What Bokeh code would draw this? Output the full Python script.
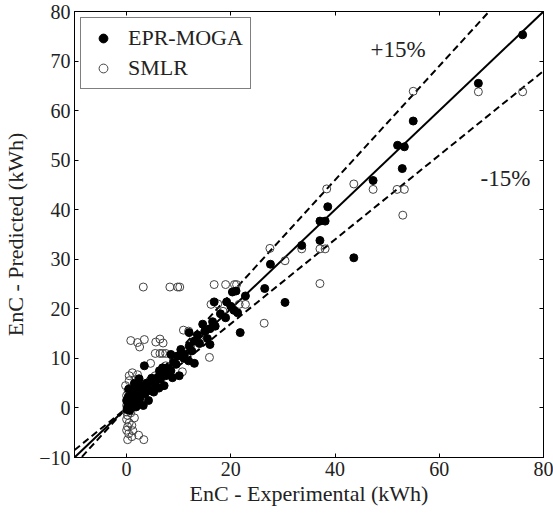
from bokeh.plotting import figure
from bokeh.models import Range1d, LinearAxis, FixedTicker, Legend, LegendItem
from bokeh.core.properties import value
from bokeh.embed import file_html
from bokeh.resources import INLINE

# EPR-MOGA (filled)
epr_exp = [76.0, 67.5, 55.0, 52.0, 53.3, 52.9, 47.3, 43.6, 38.6, 37.1, 38.1, 33.6, 37.1,
           27.6, 26.5, 30.4, 21.0, 16.8, 19.2, 20.3, 22.8, 20.6, 21.3, 21.8, 16.5, 14.6,
           12.0, 13.6, 15.2, 10.4, 11.1, 13.0, 11.9, 8.5, 9.8, 6.9, 6.3, 10.1, 8.8, 7.2,
           3.4, 2.4, 1.8, 0.2, 0.5, 0.8, 1.0, 1.5, 0.3, 2.0, 2.5, 3.0, 3.5, 4.0, 4.5, 5.0,
           5.5, 6.0, 1.2, 2.8, 0.1, 0.6, 1.8, 2.2, 3.8, 4.8, 6.5, 7.0, 7.5, 8.0, 8.5, 9.0,
           9.5, 10.0, 11.0, 12.0, 12.5, 13.0, 14.0, 15.0, 16.0, 17.0, 18.0, 19.0, 20.0,
           4.2, 3.2, 0.0, 0.4, 1.5, 5.2, 6.2, 15.5, 16.0]
epr_pred = [75.3, 65.5, 57.9, 53.0, 52.7, 48.3, 45.9, 30.3, 40.6, 37.7, 37.7, 32.8, 33.8,
            29.0, 24.1, 21.3, 23.6, 21.4, 21.4, 23.4, 22.6, 19.7, 19.2, 15.2, 17.4, 16.9,
            15.2, 14.7, 15.7, 11.8, 10.8, 9.0, 9.5, 10.8, 10.5, 8.1, 7.5, 6.5, 6.1, 4.5,
            8.5, 5.9, 4.1, 0.3, 1.0, 0.5, 1.8, 1.2, 2.2, 2.5, 1.8, 3.5, 2.8, 4.2, 3.5, 5.5,
            4.8, 6.2, 3.0, 4.5, -0.3, -0.5, 0.2, 1.0, 5.0, 6.0, 5.8, 7.2, 6.5, 8.0, 7.5, 9.2,
            8.8, 10.5, 10.0, 12.5, 11.5, 13.5, 13.0, 15.5, 16.0, 16.5, 19.0, 18.2, 20.5,
            1.5, 0.5, 1.5, 3.8, 5.0, 3.2, 4.0, 14.0, 12.8]

# SMLR (open)
smlr_exp = [76.0, 67.5, 55.0, 43.6, 47.3, 51.9, 53.3, 53.0, 38.4, 27.5, 33.6, 37.1, 38.1,
            30.4, 37.1, 26.4, 16.8, 19.0, 20.7, 21.1, 16.2, 21.6, 22.8, 3.2, 8.3, 9.8, 10.2,
            15.9, 10.9, 11.9, 0.8, 2.1, 2.5, 3.4, 5.6, 6.4, 7.0, 5.5, 6.4, 6.9, 7.5, 4.6,
            10.7, 1.1, 0.5, 2.1, -0.2, 0.0, 0.2, 0.0, 0.3, 0.5, 1.0, 1.5, 2.5, 3.5, 4.5,
            5.5, 7.5, 9.0, 12.5, 14.0, 18.5, 17.5, 0.0, 0.2, 0.0, 0.5, 0.2, 1.0, 0.0, 1.2,
            0.4, 2.3, 0.2, 3.3, 1.5, 0.8, 1.0]
smlr_pred = [63.8, 63.8, 63.9, 45.2, 44.1, 44.1, 44.1, 38.9, 44.2, 32.2, 32.1, 32.1, 32.1,
             29.7, 25.1, 17.1, 24.9, 24.9, 24.9, 24.9, 20.9, 20.9, 20.9, 24.4, 24.4, 24.4,
             24.4, 10.2, 15.7, 15.5, 13.6, 13.2, 12.3, 13.8, 13.3, 13.9, 13.1, 11.0, 11.0,
             11.0, 11.0, 9.0, 7.3, 7.1, 6.5, 6.7, 4.5, 0.5, 1.5, 2.5, 3.5, 5.5, 2.0, 3.0,
             3.5, 4.5, 5.5, 6.5, 8.5, 9.8, 13.0, 14.5, 19.5, 21.0, -0.8, -1.5, -2.3, -3.0,
             -3.8, -3.5, -4.5, -4.6, -5.2, -5.5, -6.4, -6.4, -2.0, -1.0, -5.8]

ref_x = [-10, 80]
ref_factors = [1.0, 1.15, 0.85]
x_ticks = [0, 20, 40, 60, 80]
y_ticks = [-10, 0, 10, 20, 30, 40, 50, 60, 70, 80]

FONT = "'Liberation Serif', 'Times New Roman', serif"

p = figure(frame_width=469, frame_height=446, output_backend="svg", toolbar_location=None,
           x_range=Range1d(-10, 80), y_range=Range1d(-10, 80),
           min_border_left=64, min_border_top=11, min_border_right=10, min_border_bottom=10)
p.xgrid.visible = False
p.ygrid.visible = False
p.outline_line_color = "black"
p.outline_line_width = 1
p.background_fill_color = "white"
p.border_fill_color = "white"

def style_axis(ax, ticks, labels=True):
    ax.ticker = FixedTicker(ticks=ticks)
    ax.major_tick_in = 4
    ax.major_tick_out = 0
    ax.minor_tick_line_color = None
    ax.axis_line_color = "black"
    ax.major_tick_line_color = "black"
    ax.major_label_text_font = FONT
    ax.major_label_text_font_size = "20px"
    ax.major_label_text_color = "#222222"
    ax.axis_label_text_font = FONT
    ax.axis_label_text_font_size = "22px"
    ax.axis_label_text_font_style = "normal"
    ax.axis_label_text_color = "#222222"
    if not labels:
        ax.major_label_overrides = {t: "" for t in ticks}
        ax.major_label_text_font_size = "1px"
        ax.major_label_standoff = 0

style_axis(p.xaxis[0], x_ticks)
style_axis(p.yaxis[0], y_ticks)
p.xaxis[0].axis_label = "EnC - Experimental (kWh)"
p.yaxis[0].axis_label = "EnC - Predicted (kWh)"
p.xaxis[0].major_label_standoff = 4
p.xaxis[0].axis_label_standoff = 2
p.yaxis[0].major_label_standoff = 4
p.yaxis[0].axis_label_standoff = 8

top_ax = LinearAxis()
style_axis(top_ax, x_ticks, labels=False)
p.add_layout(top_ax, "above")
right_ax = LinearAxis()
style_axis(right_ax, y_ticks, labels=False)
p.add_layout(right_ax, "right")

# reference lines
p.line(ref_x, [ref_factors[0] * v for v in ref_x], line_color="black", line_width=2)
for f in ref_factors[1:]:
    p.line(ref_x, [f * v for v in ref_x], line_color="black", line_width=2, line_dash="7 4")

r_open = p.scatter(smlr_exp, smlr_pred, marker="circle", size=8, fill_color=None,
                   line_color="#444444", line_width=1)
r_fill = p.scatter(epr_exp, epr_pred, marker="circle", size=8, fill_color="black",
                   line_color="black")

p.text(x=[52.1, 72.7], y=[72.3, 46.3], text=["+15%", "-15%"], text_align="center",
       text_baseline="middle", text_font=value(FONT), text_font_size="23px",
       text_color="#222222")

legend = Legend(items=[LegendItem(label="EPR-MOGA", renderers=[r_fill]),
                       LegendItem(label="SMLR", renderers=[r_open])],
                location="top_left")
legend.label_text_font = FONT
legend.label_text_font_size = "22px"
legend.label_text_color = "#222222"
legend.border_line_color = "black"
legend.border_line_width = 1
legend.margin = 6
legend.padding = 7
legend.spacing = 4
legend.label_height = 22
legend.glyph_height = 22
legend.glyph_width = 30
legend.label_standoff = 10
p.add_layout(legend, "center")

open("out.html", "w").write(file_html(p, INLINE))
